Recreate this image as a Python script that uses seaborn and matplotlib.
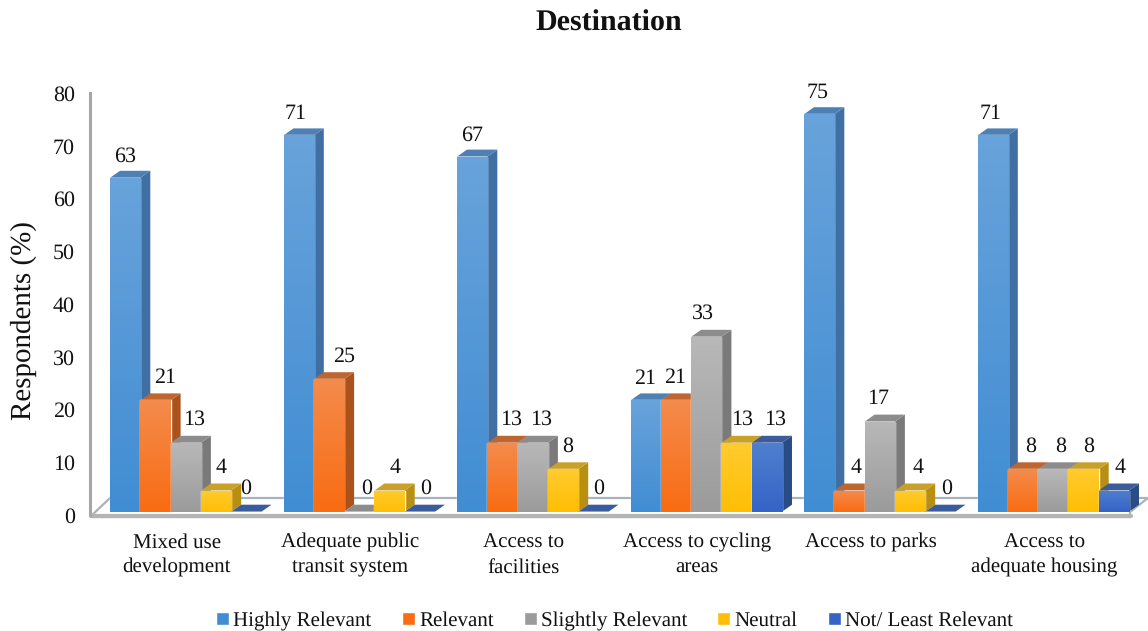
import numpy as np
import pandas as pd
import matplotlib
matplotlib.use("Agg")
import matplotlib.pyplot as plt
from matplotlib.colors import LinearSegmentedColormap
from matplotlib.lines import Line2D
from matplotlib.patches import Polygon
from matplotlib.transforms import ScaledTranslation
import seaborn as sns

# Survey results, in percent of respondents
categories = ["Mixed use\ndevelopment", "Adequate public\ntransit system", "Access to\nfacilities",
              "Access to cycling\nareas", "Access to parks", "Access to\nadequate housing"]
series_names = ["Highly Relevant", "Relevant", "Slightly Relevant", "Neutral", "Not/ Least Relevant"]
highly_relevant = [63, 71, 67, 21, 75, 71]
relevant = [21, 25, 13, 21, 4, 8]
slightly_relevant = [13, 0, 13, 33, 17, 8]
neutral = [4, 4, 8, 13, 4, 8]
not_relevant = [0, 0, 0, 13, 0, 4]
series_values = [highly_relevant, relevant, slightly_relevant, neutral, not_relevant]
y_ticks = [0, 10, 20, 30, 40, 50, 60, 70, 80]

# Horizontal label nudges in pixels, one row per series
label_nudge = [[0, -3, 0, -1, -2, -2],
               [10, 15, 9, -1, 7, 8],
               [8, 7, 8, -3, -2, 7],
               [5, 6, 5, 6, 8, 5],
               [-1, 6, 5, 8, 6, 6]]
# Height of the value labels above the bars in pixels, one per series
label_lift = [21.5, 23, 23, 23, 23]

# Colours per series: gradient top, gradient bottom, side face, top face
front_top = ["#68A3DB", "#F48B4C", "#B8B8B8", "#FFCB2E", "#4F7FD0"]
front_bottom = ["#418DD3", "#F96C12", "#9B9B9B", "#FFBE05", "#3563C6"]
side_faces = ["#3F6FA3", "#A9521C", "#7A7A7A", "#B98F12", "#2A4C86"]
top_faces = ["#4E80B4", "#BF6530", "#8C8C8C", "#C9A028", "#3A5C9C"]

W, H = 1148, 631
DPI = 100
SERIF = ["Liberation Serif", "DejaVu Serif"]

sns.set_theme(style="white")
plt.rcParams["font.family"] = SERIF
plt.rcParams["text.color"] = "#111111"
plt.rcParams["text.hinting"] = "no_hinting"
plt.rcParams["text.hinting_factor"] = 1

fig = plt.figure(figsize=(W / DPI, H / DPI), dpi=DPI)
fig.patch.set_facecolor("white")


def fig_xy(x, y):
    """Pixel position, measured from the top left, in figure fractions."""
    return x / W, 1 - y / H


def add_axes_px(left, right, top, bottom):
    return fig.add_axes([left / W, 1 - bottom / H, (right - left) / W, (bottom - top) / H])


# Chart floor behind the bars
floor_line = "#A8B3BD"
floor = Polygon([fig_xy(x, y) for x, y in [(90, 517), (110, 498), (1148, 498), (1130, 512), (1130, 517)]],
                closed=True, transform=fig.transFigure, facecolor="white",
                edgecolor=floor_line, linewidth=1.6, zorder=-2)
fig.add_artist(floor)
fig.add_artist(Line2D(*zip(fig_xy(92, 515.5), fig_xy(1131, 515.5)), transform=fig.transFigure,
                      color="#B4B4B4", linewidth=3, zorder=-1))

# Value axis with its own scale, standing at the front left of the floor
axis_ax = add_axes_px(90, 1130, 93, 515)
axis_ax.patch.set_visible(False)
axis_ax.set_ylim(0, 80)
axis_ax.set_yticks(y_ticks)
axis_ax.set_xticks([])
for name in ("top", "right", "bottom"):
    axis_ax.spines[name].set_visible(False)
axis_ax.spines["left"].set_color("#A6A6A6")
axis_ax.spines["left"].set_linewidth(2.2)
axis_ax.tick_params(axis="y", length=0, pad=11, labelsize=16, labelcolor="#111111")
axis_ax.set_ylabel("Respondents (%)", fontsize=21, color="#111111")
axis_ax.yaxis.set_label_coords((37 - 90) / 1040, (515 - 321) / 422)

# Bars
ax = add_axes_px(99, 1140, 87.7, 511.7)
ax.patch.set_visible(False)

frame = pd.DataFrame({
    "category": np.tile(categories, len(series_names)),
    "series": np.repeat(series_names, len(categories)),
    "value": np.concatenate(series_values),
})
sns.barplot(data=frame, x="category", y="value", hue="series", hue_order=series_names,
            order=categories, palette=front_bottom, width=0.873, gap=0, dodge=True,
            saturation=1, legend=False, ax=ax)
ax.set_xlim(-0.5, 5.5)
ax.set_ylim(0, 80)
ax.set_xlabel("")
ax.set_ylabel("")
ax.set_yticks([])
sns.despine(ax=ax, left=True, bottom=True)

# Depth of the extruded bars, converted from pixels to data units
depth_x = 10 / (1041 / 6)
depth_y = 7 / (424 / 80)

for s, container in enumerate(ax.containers):
    cmap = LinearSegmentedColormap.from_list(series_names[s], [front_top[s], front_bottom[s]])
    base_z = 2 + 3 * s
    for c, bar in enumerate(container):
        x0, x1 = bar.get_x(), bar.get_x() + bar.get_width()
        h = bar.get_height()
        ax.add_patch(Polygon([(x1, 0), (x1 + depth_x, depth_y), (x1 + depth_x, h + depth_y), (x1, h)],
                             facecolor=side_faces[s], edgecolor="none", zorder=base_z, clip_on=False))
        ax.add_patch(Polygon([(x0, h), (x1, h), (x1 + depth_x, h + depth_y), (x0 + depth_x, h + depth_y)],
                             facecolor=top_faces[s], edgecolor="none", zorder=base_z, clip_on=False))
        bar.set_zorder(base_z + 1)
        if h > 0:
            gradient = np.linspace(0, 1, 64).reshape(-1, 1)
            image = ax.imshow(gradient, cmap=cmap, aspect="auto", extent=(x0, x1, 0, h),
                              origin="upper", zorder=base_z + 2)
            image.set_clip_path(bar)
        ax.annotate(f"{h:.0f}", xy=(bar.get_x() + bar.get_width() / 2, h),
                    xytext=(label_nudge[s][c] * 72 / DPI, label_lift[s] * 72 / DPI),
                    textcoords="offset points", ha="center", va="center", fontsize=16,
                    color="#111111", zorder=40, annotation_clip=False)

ax.set_xlim(-0.5, 5.5)
ax.set_ylim(0, 80)

# Category labels sit a little left of their groups
ax.tick_params(axis="x", length=0, pad=15.5, labelsize=15.2, labelcolor="#111111")
shift = ScaledTranslation(-9 / DPI, 0, fig.dpi_scale_trans)
for label in ax.get_xticklabels():
    label.set_transform(label.get_transform() + shift)
    label.set_linespacing(1.38)

fig.text(*fig_xy(609, 23), "Destination", ha="center", va="center",
         fontsize=21.4, fontweight="bold", color="#111111")

handles = [container[0] for container in ax.containers]
fig.legend(handles, series_names, loc="center", bbox_to_anchor=fig_xy(614.5, 621), ncol=5,
           frameon=False, fontsize=15.3, handlelength=0.62, handleheight=0.62, handletextpad=0.2,
           columnspacing=1.41, borderpad=0)

fig.savefig("out.png", dpi=DPI)
